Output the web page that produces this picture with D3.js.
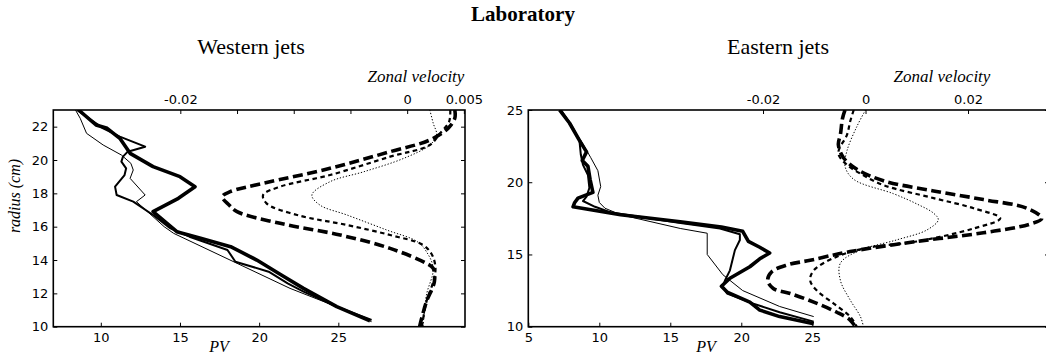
<!DOCTYPE html>
<html>
<head>
<meta charset="utf-8">
<script src="https://cdn.jsdelivr.net/npm/d3@7"></script>
<style>
    body { margin: 0; background: white; }
    svg { display: block; }
</style>
</head>
<body>
<div id="chart"></div>
<script>
// profiles, each point is [radius (cm), value]

// Western jets - PV
const westPvThick = [[23.0,8.6],[22.1,9.7],[21.9,10.4],[21.3,11.2],[20.4,11.85],[19.6,13.3],[19.0,15.0],[18.4,15.95],
    [17.7,14.9],[16.9,13.3],[16.3,14.05],[15.7,14.8],[15.3,16.3],[14.8,18.2],[14.0,19.85],[13.1,21.4],[12.3,22.8],[11.2,24.9],[10.35,27.0]];
const westPvMedium = [[23.0,8.5],[21.9,10.15],[21.4,11.2],[20.8,12.8],[20.5,11.7],[20.2,11.4],[19.9,11.3],[19.5,11.6],[19.1,11.5],
    [18.4,10.9],[17.9,11.0],[17.5,12.05],[16.7,13.3],[15.9,14.4],[15.4,15.6],[14.6,18.0],[13.9,18.5],[13.3,20.6],[12.6,21.8],[12.1,22.8],[11.2,24.9],[10.4,27.1]];
const westPvThin = [[23.0,8.4],[22.5,8.7],[21.6,9.1],[20.9,10.15],[20.3,11.3],[19.8,11.9],[19.4,12.05],[18.9,11.85],[17.9,12.8],
    [17.5,12.25],[16.0,14.0],[15.6,14.6],[12.3,21.95],[11.2,24.9],[10.3,27.1]];

// Western jets - zonal velocity
const westUThick = [[23.0,0.0042],[22.5,0.0042],[21.9,0.0036],[21.2,0.0020],[20.5,-0.0015],[19.5,-0.0068],[18.6,-0.0127],
    [18.1,-0.0156],[17.8,-0.0163],[17.3,-0.0157],[16.9,-0.0150],[16.2,-0.0112],[15.5,-0.0059],[14.7,-0.0015],[13.8,0.0017],
    [13.5,0.0023],[12.7,0.0024],[11.5,0.0017],[10.3,0.0012],[10.0,0.0011]];
const westUMedium = [[23.0,0.0038],[22.3,0.0037],[21.6,0.0029],[20.9,0.0020],[20.2,-0.0015],[19.1,-0.0068],[18.4,-0.0112],
    [17.9,-0.0127],[17.4,-0.0124],[16.7,-0.0097],[16.1,-0.0053],[15.5,-0.0015],[14.9,0.0014],[14.3,0.0022],[13.5,0.0025],
    [12.7,0.0023],[11.5,0.0017],[10.0,0.0013]];
const westUThin = [[23.0,0.0020],[22.2,0.0023],[21.5,0.0026],[20.9,0.0020],[20.1,-0.0003],[19.3,-0.0038],[18.7,-0.0068],
    [17.9,-0.0084],[17.3,-0.0077],[16.7,-0.0053],[15.8,-0.0018],[15.1,0.0009],[14.5,0.0017],[13.5,0.0023],[11.9,0.0017],[10.0,0.0014]];

// Eastern jets - PV
const eastPvThick = [[25.0,7.2],[24.1,7.9],[22.9,8.6],[22.1,9.1],[21.5,8.8],[21.1,9.2],[20.2,9.35],[19.3,9.55],[18.9,8.5],
    [18.6,8.27],[18.3,8.15],[17.75,11.5],[17.27,15.7],[16.9,18.6],[16.6,20.1],[15.9,20.5],[15.5,21.3],[15.1,22.0],[14.7,21.3],
    [14.15,20.6],[13.35,19.2],[12.8,18.6],[12.4,19.0],[11.7,20.6],[11.15,21.3],[10.7,22.7],[10.2,25.1]];
const eastPvMedium = [[25.0,7.3],[24.0,8.0],[22.9,8.6],[21.9,8.7],[21.2,8.85],[20.5,9.2],[19.6,9.3],[19.0,9.1],[18.7,8.85],
    [18.3,9.7],[17.9,10.85],[17.2,15.6],[16.8,18.5],[16.4,19.9],[16.0,19.9],[15.3,19.55],[13.9,19.2],[13.2,18.85],[12.8,18.7],
    [12.3,19.0],[11.6,20.85],[11.0,22.7],[10.35,25.1]];
const eastPvThin = [[25.0,7.2],[24.0,7.9],[22.9,8.7],[21.7,9.4],[20.8,9.9],[19.7,10.1],[19.1,9.9],[18.6,10.0],[18.2,10.4],
    [17.75,11.5],[16.8,15.7],[16.47,17.6],[15.0,17.6],[13.6,18.7],[12.5,20.1],[11.4,22.7],[10.7,25.1]];

// Eastern jets - zonal velocity
const eastUThick = [[25.0,-0.0040],[24.4,-0.0045],[23.3,-0.0049],[22.6,-0.0053],[21.7,-0.0043],[20.9,-0.0017],[20.1,0.0035],
    [19.4,0.0133],[18.8,0.0230],[18.2,0.0315],[17.5,0.0344],[17.1,0.0321],[16.5,0.0230],[15.9,0.0100],[15.2,-0.0030],
    [14.6,-0.0108],[14.27,-0.0153],[13.8,-0.0183],[13.2,-0.0191],[12.65,-0.0180],[12.3,-0.0147],[11.7,-0.0101],[11.0,-0.0056],
    [10.46,-0.0030],[10.0,-0.0020]];
const eastUMedium = [[25.0,-0.0023],[24.2,-0.0030],[23.3,-0.0036],[22.0,-0.0053],[21.2,-0.0036],[20.5,-0.0005],[19.8,0.0035],
    [18.9,0.0133],[18.2,0.0211],[17.5,0.0263],[16.8,0.0211],[15.9,0.0100],[15.45,0.0003],[14.85,-0.0056],[13.9,-0.0101],
    [13.2,-0.0108],[12.5,-0.0095],[11.6,-0.0062],[10.7,-0.0030],[10.0,-0.0017]];
const eastUThin = [[25.0,0.0],[23.85,-0.0017],[22.2,-0.0036],[21.1,-0.0040],[20.2,-0.0023],[19.2,0.0055],[18.5,0.0100],
    [17.85,0.0133],[17.4,0.0142],[16.7,0.0120],[16.0,0.0060],[15.3,-0.0010],[14.4,-0.0049],[13.2,-0.0049],[11.85,-0.0030],
    [10.7,-0.0010],[10.0,-0.0004]];

// ticks
const westRTicks = [10, 12, 14, 16, 18, 20, 22];
const westPvTicks = [10, 15, 20, 25];
const westUTicks = [-0.02, -0.015, -0.01, -0.005, 0, 0.005];
const westUTickLabels = ["-0.02", "", "", "", "0", "0.005"];
const eastRTicks = [10, 15, 20, 25];
const eastPvTicks = [5, 10, 15, 20, 25];
const eastUTicks = [-0.02, 0, 0.02];
const eastUTickLabels = ["-0.02", "0", "0.02"];

const SERIF = "'Liberation Serif', 'Times New Roman', serif";
const SANS = "'DejaVu Sans', sans-serif";

class JetPanel {
    constructor(svg, opts) {
        this.svg = svg;
        this.opts = opts;
        this.initVis();
    }

    initVis() {
        let vis = this;
        let o = vis.opts;
        vis.width = o.right - o.left;
        vis.height = o.bottom - o.top;

        vis.g = vis.svg.append("g")
            .attr("transform", "translate(" + o.left + "," + o.top + ")");

        vis.x = d3.scaleLinear().domain(o.pvDomain).range([0, vis.width]);
        vis.u = d3.scaleLinear().domain(o.uDomain).range([0, vis.width]);
        vis.y = d3.scaleLinear().domain(o.rDomain).range([vis.height, 0]);

        vis.g.append("clipPath").attr("id", o.id + "-clip")
            .append("rect").attr("width", vis.width).attr("height", vis.height);

        vis.lines = vis.g.append("g").attr("clip-path", "url(#" + o.id + "-clip)");

        vis.updateVis();
    }

    updateVis() {
        let vis = this;
        let o = vis.opts;

        let pvLine = d3.line()
            .x(d => vis.x(d[1]))
            .y(d => vis.y(d[0]));
        let uLine = d3.line()
            .curve(d3.curveCatmullRom.alpha(0.5))
            .x(d => vis.u(d[1]))
            .y(d => vis.y(d[0]));

        let styles = [
            {w: 3.6, dash: null},
            {w: 2.0, dash: null},
            {w: 1.0, dash: null}
        ];
        let uStyles = [
            {w: 3.6, dash: "10,4.5"},
            {w: 2.2, dash: "4.5,3.5"},
            {w: 1.0, dash: "1.3,1.8"}
        ];

        o.pv.forEach((s, i) => {
            vis.lines.append("path")
                .attr("d", pvLine(s))
                .attr("fill", "none")
                .attr("stroke", "black")
                .attr("stroke-width", styles[i].w)
                .attr("stroke-linejoin", "round");
        });
        o.u.forEach((s, i) => {
            vis.lines.append("path")
                .attr("d", uLine(s))
                .attr("fill", "none")
                .attr("stroke", "black")
                .attr("stroke-width", uStyles[i].w)
                .attr("stroke-dasharray", uStyles[i].dash);
        });

        // axes, ticks pointing inward like the original
        let bottomAxis = vis.g.append("g")
            .attr("transform", "translate(0," + vis.height + ")")
            .call(d3.axisBottom(vis.x).tickValues(o.pvTicks).tickSizeInner(-4).tickSizeOuter(0).tickPadding(6));
        let topAxis = vis.g.append("g")
            .call(d3.axisTop(vis.u).tickValues(o.uTicks).tickFormat((d, i) => o.uLabels[i])
                .tickSizeInner(-4).tickSizeOuter(0).tickPadding(6));
        let leftAxis = vis.g.append("g")
            .call(d3.axisLeft(vis.y).tickValues(o.rTicks).tickSizeInner(-4).tickSizeOuter(0).tickPadding(5));
        let rightAxis = vis.g.append("g")
            .attr("transform", "translate(" + vis.width + ",0)")
            .call(d3.axisRight(vis.y).tickValues(o.rTicks).tickFormat("").tickSizeInner(-4).tickSizeOuter(0));

        [bottomAxis, topAxis, leftAxis, rightAxis].forEach(a => {
            a.select(".domain").remove();
            a.selectAll("line").attr("stroke", "black").attr("stroke-width", 1);
            a.selectAll("text").attr("font-family", SANS).attr("font-size", 13).attr("fill", "black");
        });

        vis.g.append("rect")
            .attr("width", vis.width)
            .attr("height", vis.height)
            .attr("fill", "none")
            .attr("stroke", "black")
            .attr("stroke-width", 1.6);

        // labels
        vis.svg.append("text")
            .attr("x", o.titleX).attr("y", 54)
            .attr("text-anchor", "middle")
            .attr("font-family", SERIF).attr("font-size", 22)
            .text(o.title);
        vis.svg.append("text")
            .attr("x", o.zonalX).attr("y", 82)
            .attr("text-anchor", "middle")
            .attr("font-family", SERIF).attr("font-style", "italic").attr("font-size", 17)
            .text("Zonal velocity");
        vis.svg.append("text")
            .attr("x", o.pvLabelX).attr("y", 352)
            .attr("text-anchor", "middle")
            .attr("font-family", SERIF).attr("font-style", "italic").attr("font-size", 16)
            .text("PV");
    }
}

let svg = d3.select("#chart").append("svg")
    .attr("width", 1046)
    .attr("height", 359);

svg.append("text")
    .attr("x", 523).attr("y", 21)
    .attr("text-anchor", "middle")
    .attr("font-family", SERIF).attr("font-weight", "bold").attr("font-size", 21)
    .text("Laboratory");

svg.append("text")
    .attr("transform", "translate(20,196) rotate(-90)")
    .attr("text-anchor", "middle")
    .attr("font-family", SERIF).attr("font-style", "italic").attr("font-size", 16)
    .text("radius (cm)");

new JetPanel(svg, {
    id: "west", title: "Western jets",
    left: 53.3, right: 465, top: 110, bottom: 326.7,
    pvDomain: [7, 33], uDomain: [-0.0312, 0.0051], rDomain: [10, 23],
    pvTicks: westPvTicks, uTicks: westUTicks, uLabels: westUTickLabels, rTicks: westRTicks,
    pv: [westPvThick, westPvMedium, westPvThin],
    u: [westUThick, westUMedium, westUThin],
    titleX: 251, zonalX: 416, pvLabelX: 219
});

new JetPanel(svg, {
    id: "east", title: "Eastern jets",
    left: 528.3, right: 1049, top: 110, bottom: 326.7,
    pvDomain: [5, 41.67], uDomain: [-0.0658, 0.0358], rDomain: [10, 25],
    pvTicks: eastPvTicks, uTicks: eastUTicks, uLabels: eastUTickLabels, rTicks: eastRTicks,
    pv: [eastPvThick, eastPvMedium, eastPvThin],
    u: [eastUThick, eastUMedium, eastUThin],
    titleX: 778, zonalX: 942, pvLabelX: 706
});
</script>
</body>
</html>
